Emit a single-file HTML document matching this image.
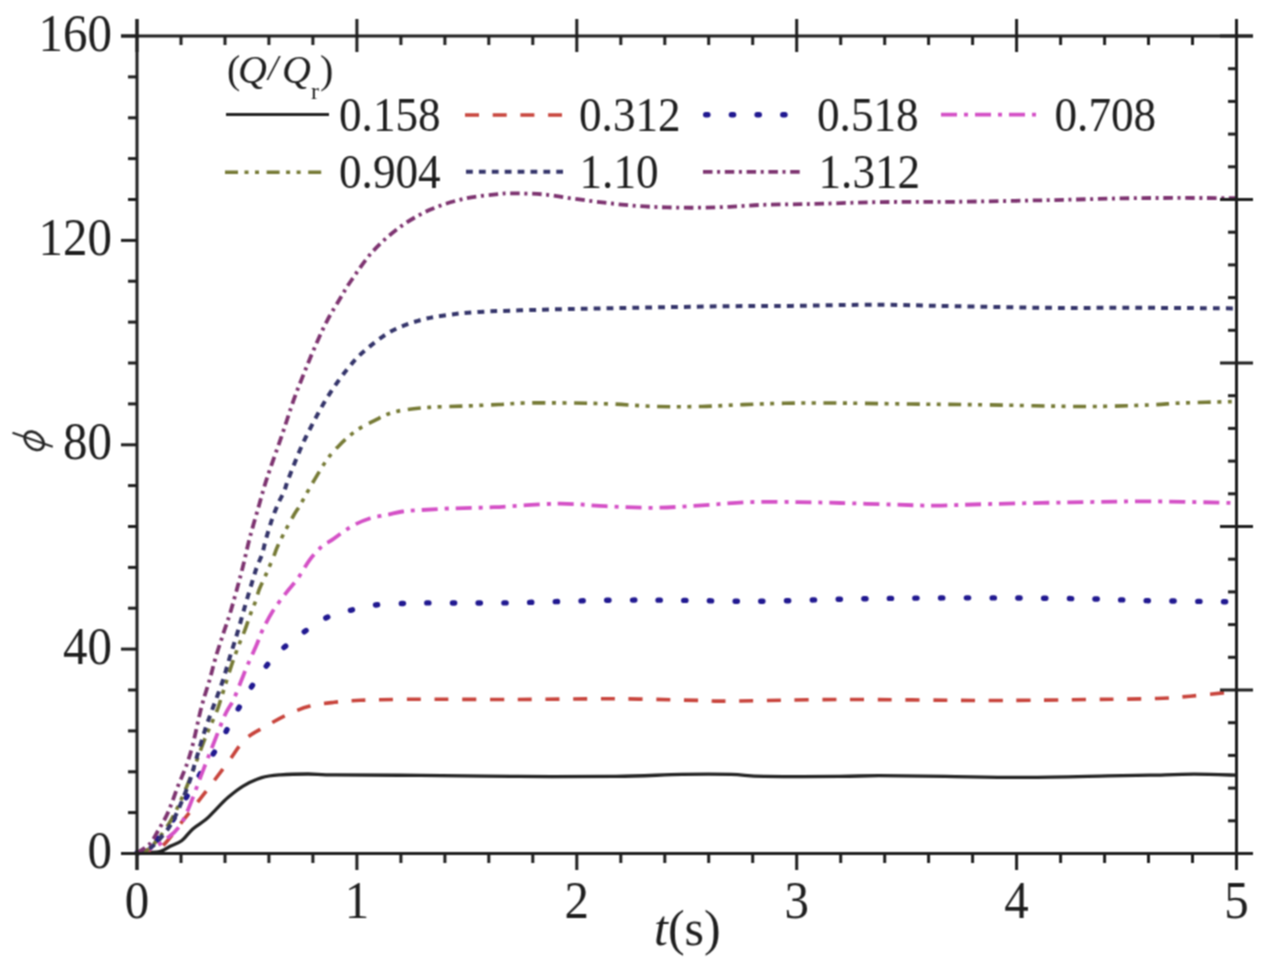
<!DOCTYPE html>
<html><head><meta charset="utf-8"><style>
html,body{margin:0;padding:0;background:#fff;}
svg{display:block;}
text{font-family:"Liberation Serif",serif;fill:#1e1e1e;}
</style></head><body>
<svg width="1283" height="967" viewBox="0 0 1283 967">
<defs><filter id="bl" color-interpolation-filters="sRGB" filterUnits="userSpaceOnUse" x="0" y="0" width="1283" height="967"><feConvolveMatrix order="3" kernelMatrix="1 2 1 2 4 2 1 2 1" divisor="16" edgeMode="duplicate"/></filter></defs>
<g filter="url(#bl)">
<rect width="1283" height="967" fill="#fff"/>
<path d="M137.0,853.0 C140.8,852.8 154.4,852.6 159.8,851.5 C165.2,850.4 166.1,848.2 169.7,846.4 C173.3,844.6 177.8,843.7 181.6,840.8 C185.4,837.9 188.8,832.4 192.8,828.9 C196.8,825.4 202.1,822.7 205.8,819.6 C209.5,816.5 211.4,814.0 215.1,810.3 C218.8,806.6 223.5,801.3 228.2,797.3 C232.9,793.3 237.5,789.4 243.1,786.1 C248.7,782.8 255.5,779.6 261.7,777.7 C267.9,775.8 272.6,775.5 280.3,774.9 C288.1,774.3 298.9,774.0 308.2,774.0 C317.5,774.0 317.5,774.7 336.1,774.9 C354.7,775.1 389.7,775.1 420.0,775.4 C450.3,775.6 485.3,776.2 518.0,776.4 C550.7,776.6 588.7,776.7 616.0,776.4 C643.3,776.1 662.8,774.7 682.0,774.4 C701.2,774.1 717.3,774.1 731.0,774.4 C744.7,774.7 745.8,776.1 764.0,776.4 C782.2,776.7 820.8,776.5 840.0,776.4 C859.2,776.3 861.5,775.7 879.0,775.7 C896.5,775.7 920.5,776.1 945.0,776.4 C969.5,776.7 998.8,777.5 1026.0,777.4 C1053.2,777.3 1087.3,776.3 1108.0,775.9 C1128.7,775.5 1135.7,775.5 1150.0,775.2 C1164.3,774.9 1179.7,774.2 1194.0,774.2 C1208.3,774.2 1229.0,775.0 1236.0,775.2" fill="none" stroke="#222222" stroke-width="3.3" stroke-linecap="butt" stroke-linejoin="round"/>
<path d="M137.0,853.0 C139.2,852.7 145.7,852.2 150.0,851.0 C154.3,849.8 157.5,850.5 163.0,845.5 C168.5,840.5 177.4,827.6 182.9,820.7 C188.4,813.8 191.3,810.3 196.1,804.2 C200.8,798.1 206.1,791.2 211.4,784.2 C216.8,777.2 222.6,769.3 228.2,761.9 C233.8,754.5 238.7,745.5 244.9,739.6 C251.1,733.7 258.3,730.7 265.4,726.5 C272.5,722.3 280.2,717.8 287.7,714.4 C295.1,711.0 302.3,708.1 310.1,706.1 C317.9,704.1 325.9,703.3 334.3,702.3 C342.7,701.3 346.4,700.8 360.3,700.3 C374.2,699.8 391.4,699.3 417.7,699.2 C444.0,699.1 484.9,699.6 518.0,699.5 C551.0,699.4 585.4,698.6 616.0,698.8 C646.6,699.0 682.9,700.1 701.5,700.5 C720.1,700.9 704.1,701.3 727.7,701.1 C751.3,700.9 799.8,699.6 843.0,699.5 C886.2,699.4 945.5,700.5 987.0,700.5 C1028.5,700.5 1063.7,699.8 1092.0,699.5 C1120.3,699.2 1140.7,699.0 1157.0,698.5 C1173.3,698.0 1179.0,697.1 1190.0,696.2 C1201.0,695.3 1215.3,693.7 1223.0,692.9 C1230.7,692.1 1233.8,691.7 1236.0,691.5" fill="none" stroke="#c8443c" stroke-width="3.6" stroke-linecap="butt" stroke-linejoin="round" stroke-dasharray="14 13.7"/>
<path d="M137.0,853.0 C139.2,852.5 146.5,852.3 150.0,850.0 C153.5,847.7 154.2,844.0 158.0,839.0 C161.8,834.0 168.3,826.8 173.0,819.9 C177.7,813.0 181.4,805.8 186.2,797.6 C191.0,789.5 196.6,779.7 202.0,771.0 C207.4,762.3 213.6,753.9 218.5,745.5 C223.4,737.1 227.4,728.6 231.7,720.7 C236.0,712.8 240.2,705.4 244.5,698.2 C248.8,691.0 253.0,684.3 257.8,677.5 C262.6,670.7 267.9,663.7 273.5,657.6 C279.1,651.5 285.6,646.1 291.7,641.1 C297.8,636.1 303.9,632.0 310.2,627.9 C316.4,623.8 322.1,619.4 329.2,616.4 C336.3,613.4 345.1,611.6 352.8,609.7 C360.5,607.8 367.7,606.0 375.6,605.0 C383.6,604.0 392.0,604.0 400.5,603.6 C409.0,603.2 409.1,603.0 426.5,602.9 C443.9,602.8 475.0,603.3 505.0,602.9 C535.0,602.5 577.7,600.7 606.6,600.3 C635.5,599.9 653.5,600.1 678.6,600.3 C703.7,600.5 728.7,601.5 757.2,601.3 C785.7,601.1 821.1,599.5 849.6,599.0 C878.1,598.5 900.1,598.2 928.2,598.0 C956.3,597.8 990.4,597.8 1018.2,598.0 C1046.0,598.2 1074.1,598.6 1095.1,599.0 C1116.1,599.4 1124.0,600.2 1144.2,600.6 C1164.4,601.0 1201.0,601.4 1216.3,601.6 C1231.6,601.8 1232.7,601.8 1236.0,601.8" fill="none" stroke="#201890" stroke-width="5.4" stroke-linecap="round" stroke-linejoin="round" stroke-dasharray="2.2 23.5"/>
<path d="M137.0,853.0 C139.2,852.3 145.3,851.2 150.0,849.0 C154.7,846.8 159.5,844.7 165.0,840.0 C170.5,835.3 176.6,832.2 182.9,820.7 C189.2,809.2 197.8,783.7 202.8,771.1 C207.8,758.5 209.3,754.2 213.0,745.0 C216.7,735.8 221.4,723.0 224.7,715.6 C228.0,708.2 230.2,706.5 233.0,700.7 C235.8,694.9 238.7,686.9 241.2,680.8 C243.7,674.7 245.4,670.1 247.9,664.3 C250.4,658.5 253.6,651.9 256.1,646.1 C258.6,640.3 260.0,635.3 262.8,629.5 C265.6,623.7 268.9,617.4 272.7,611.3 C276.5,605.2 281.8,598.5 285.9,593.1 C290.0,587.7 293.6,584.2 297.6,578.7 C301.6,573.2 305.7,565.3 309.7,559.9 C313.7,554.5 318.2,549.8 321.8,546.5 C325.4,543.2 327.7,542.9 331.3,540.4 C334.9,537.9 339.4,534.4 343.4,531.7 C347.4,529.0 351.0,526.5 355.5,524.3 C360.0,522.0 365.1,519.8 370.3,518.2 C375.6,516.6 381.6,516.0 387.0,514.9 C392.4,513.8 397.2,512.3 402.5,511.5 C407.8,510.7 411.0,510.7 418.7,510.2 C426.4,509.7 436.4,509.0 448.9,508.5 C461.4,508.0 475.8,508.0 493.9,507.2 C512.0,506.4 539.1,503.9 557.8,503.7 C576.4,503.5 589.8,505.5 605.8,506.2 C621.8,506.9 637.7,507.9 653.7,507.8 C669.7,507.7 685.7,506.2 701.7,505.3 C717.7,504.4 733.6,502.6 749.6,502.1 C765.6,501.6 782.4,502.0 797.5,502.1 C812.6,502.2 823.9,502.6 840.0,503.0 C856.1,503.4 878.0,504.2 893.9,504.6 C909.8,505.0 919.5,505.7 935.5,505.6 C951.5,505.5 967.4,504.5 989.8,504.0 C1012.2,503.5 1043.1,502.8 1069.7,502.4 C1096.3,502.0 1121.9,501.3 1149.6,501.4 C1177.3,501.5 1221.6,502.7 1236.0,503.0" fill="none" stroke="#d450c6" stroke-width="3.8" stroke-linecap="butt" stroke-linejoin="round" stroke-dasharray="16 7 4 7"/>
<path d="M137.0,853.0 C139.2,852.2 144.6,853.1 150.0,848.0 C155.4,842.9 163.5,832.7 169.7,822.4 C175.9,812.1 181.2,799.7 187.0,786.0 C192.8,772.3 199.5,752.3 204.4,740.0 C209.3,727.7 213.6,719.4 216.4,712.3 C219.2,705.2 219.2,704.3 221.4,697.4 C223.6,690.5 227.4,678.1 229.7,670.9 C232.0,663.7 233.6,659.3 235.4,654.3 C237.2,649.3 238.9,645.0 240.4,641.1 C241.9,637.2 242.8,635.6 244.5,631.2 C246.2,626.8 248.4,619.9 250.3,614.6 C252.2,609.4 254.6,604.0 256.1,599.7 C257.6,595.4 257.6,593.5 259.4,589.0 C261.2,584.5 264.6,577.7 266.9,572.4 C269.2,567.1 271.6,561.5 273.4,557.2 C275.2,552.9 275.5,551.0 277.5,546.5 C279.5,542.0 282.8,535.5 285.5,530.3 C288.2,525.1 291.1,519.8 293.6,515.5 C296.1,511.2 298.1,508.6 300.3,504.8 C302.5,501.0 304.6,496.9 307.0,492.7 C309.4,488.5 311.1,485.4 314.4,479.9 C317.7,474.4 322.7,465.6 326.8,459.8 C330.9,454.1 334.4,450.2 339.2,445.4 C344.0,440.6 349.9,435.0 355.8,430.9 C361.7,426.8 367.8,423.8 374.4,420.6 C381.0,417.4 386.4,413.8 395.5,411.6 C404.6,409.4 417.4,408.3 429.0,407.4 C440.6,406.5 453.8,406.5 465.4,406.0 C477.0,405.5 488.8,405.0 498.9,404.5 C509.0,404.0 513.9,403.2 525.9,403.0 C537.9,402.8 556.2,402.8 570.6,403.0 C585.0,403.2 597.8,403.4 612.2,404.0 C626.6,404.6 642.0,406.1 656.9,406.5 C671.8,406.9 687.2,406.8 701.6,406.5 C716.0,406.2 729.4,405.1 743.2,404.6 C757.1,404.1 770.3,403.6 784.7,403.3 C799.1,403.0 808.6,402.9 829.5,403.0 C850.4,403.1 883.2,403.7 909.9,404.0 C936.6,404.3 960.5,404.5 989.8,404.9 C1019.1,405.3 1059.1,406.5 1085.7,406.5 C1112.3,406.5 1133.6,405.5 1149.6,404.9 C1165.6,404.3 1167.1,403.6 1181.5,403.0 C1195.9,402.4 1226.9,401.8 1236.0,401.5" fill="none" stroke="#767a35" stroke-width="3.6" stroke-linecap="butt" stroke-linejoin="round" stroke-dasharray="13 6.5 4 6.5 4 7.6"/>
<path d="M137.0,853.0 C139.2,852.2 146.2,850.4 150.0,848.0 C153.8,845.6 156.0,843.4 159.8,838.9 C163.6,834.4 168.3,829.5 173.0,820.7 C177.7,811.9 184.1,796.2 187.9,786.0 C191.8,775.8 193.2,768.8 196.1,759.5 C198.9,750.2 202.2,738.7 205.0,730.0 C207.8,721.3 210.2,715.2 213.1,707.3 C216.0,699.4 219.4,690.8 222.2,682.5 C225.0,674.2 227.1,666.1 229.7,657.6 C232.3,649.1 235.3,640.0 237.9,631.2 C240.5,622.4 242.9,613.2 245.4,604.7 C247.9,596.2 250.9,586.2 252.8,579.9 C254.7,573.5 255.5,570.8 257.0,566.6 C258.5,562.4 260.6,558.8 262.0,554.5 C263.4,550.2 264.2,545.6 265.4,541.1 C266.6,536.6 268.1,531.9 269.4,527.6 C270.7,523.3 271.8,519.8 273.4,515.5 C275.0,511.2 277.0,506.1 278.8,502.1 C280.6,498.1 282.6,495.2 284.2,491.3 C285.8,487.4 285.6,486.0 288.6,478.4 C291.6,470.8 297.4,455.7 302.0,445.4 C306.6,435.1 311.7,425.4 316.5,416.4 C321.3,407.4 325.8,399.5 331.0,391.6 C336.2,383.7 342.0,375.6 347.5,368.9 C353.0,362.2 356.9,357.4 364.0,351.3 C371.1,345.2 380.9,337.1 389.9,332.0 C398.9,326.9 408.6,323.6 417.9,320.8 C427.2,318.0 435.6,316.8 445.8,315.3 C456.0,313.8 463.2,312.8 479.3,311.9 C495.4,311.0 521.5,310.3 542.4,309.7 C563.3,309.1 583.9,308.8 604.7,308.4 C625.5,308.0 646.2,307.6 667.0,307.2 C687.8,306.8 708.6,306.4 729.4,306.2 C750.2,306.0 766.7,306.1 791.8,305.9 C816.9,305.6 853.0,304.6 880.0,304.7 C907.0,304.8 925.7,305.7 953.5,306.2 C981.3,306.7 1015.8,307.5 1047.0,307.8 C1078.2,308.1 1109.1,307.7 1140.6,307.8 C1172.1,307.9 1220.1,308.3 1236.0,308.4" fill="none" stroke="#34346a" stroke-width="4" stroke-linecap="butt" stroke-linejoin="round" stroke-dasharray="6.8 6.1"/>
<path d="M137.0,853.0 C139.1,851.5 146.3,847.6 149.8,843.9 C153.3,840.2 155.1,835.8 158.1,830.6 C161.1,825.4 164.7,819.9 168.0,812.5 C171.3,805.1 175.0,793.7 178.0,786.0 C181.0,778.3 183.7,773.0 186.2,766.1 C188.7,759.2 190.7,752.8 192.8,744.6 C194.9,736.5 197.3,724.5 199.0,717.2 C200.7,709.9 201.4,707.0 203.2,700.7 C205.0,694.4 207.7,686.4 209.8,679.2 C211.9,672.0 213.4,665.1 215.6,657.6 C217.8,650.1 220.7,641.7 223.0,634.5 C225.3,627.3 227.5,621.8 229.7,614.6 C231.9,607.4 234.1,599.4 236.3,591.4 C238.5,583.4 240.6,575.7 242.9,566.6 C245.2,557.5 247.3,547.1 250.0,537.0 C252.7,526.9 256.1,515.5 258.9,505.7 C261.7,495.9 263.2,489.8 266.9,478.4 C270.6,467.0 276.8,450.2 281.3,437.1 C285.8,424.0 289.9,410.6 293.7,399.9 C297.5,389.2 300.7,381.6 304.1,373.0 C307.6,364.4 310.6,356.8 314.4,348.2 C318.2,339.6 322.3,329.9 326.8,321.3 C331.3,312.7 337.2,303.4 341.3,296.5 C345.4,289.6 346.3,287.6 351.6,280.0 C356.9,272.4 364.9,259.9 373.2,251.0 C381.4,242.1 391.3,233.3 401.1,226.3 C410.9,219.3 421.1,213.6 431.8,209.0 C442.5,204.4 454.2,201.0 465.4,198.5 C476.6,196.0 491.3,194.8 498.9,194.0 C506.5,193.2 503.9,193.3 511.2,193.4 C518.5,193.5 532.0,193.4 542.4,194.3 C552.8,195.2 563.1,197.3 573.5,198.7 C583.9,200.1 594.3,201.5 604.7,202.7 C615.1,203.9 625.5,205.1 635.9,205.9 C646.3,206.7 656.6,207.1 667.0,207.4 C677.4,207.7 687.8,207.8 698.2,207.7 C708.6,207.6 719.0,207.3 729.4,206.8 C739.8,206.3 750.2,205.3 760.6,204.9 C771.0,204.5 781.4,204.5 791.8,204.3 C802.2,204.1 808.2,204.1 822.9,203.7 C837.6,203.3 858.2,202.4 880.0,202.1 C901.8,201.8 925.7,202.1 953.5,201.8 C981.3,201.5 1015.8,200.8 1047.0,200.2 C1078.2,199.6 1109.1,198.4 1140.6,198.1 C1172.1,197.8 1220.1,198.1 1236.0,198.1" fill="none" stroke="#7d3370" stroke-width="3.8" stroke-linecap="butt" stroke-linejoin="round" stroke-dasharray="9.5 4.6 3 4.7"/>
<line x1="121.0" y1="36.0" x2="1253.0" y2="36.0" stroke="#1e1e1e" stroke-width="3"/>
<line x1="121.0" y1="853.5" x2="1253.0" y2="853.5" stroke="#1e1e1e" stroke-width="3"/>
<line x1="137.0" y1="19.0" x2="137.0" y2="870.0" stroke="#1e1e1e" stroke-width="3"/>
<line x1="1236.5" y1="19.0" x2="1236.5" y2="870.0" stroke="#1e1e1e" stroke-width="3"/>
<line x1="121.0" y1="36.0" x2="137.0" y2="36.0" stroke="#1e1e1e" stroke-width="3"/>
<line x1="128.0" y1="76.9" x2="137.0" y2="76.9" stroke="#1e1e1e" stroke-width="3"/>
<line x1="128.0" y1="117.8" x2="137.0" y2="117.8" stroke="#1e1e1e" stroke-width="3"/>
<line x1="128.0" y1="158.6" x2="137.0" y2="158.6" stroke="#1e1e1e" stroke-width="3"/>
<line x1="128.0" y1="199.5" x2="137.0" y2="199.5" stroke="#1e1e1e" stroke-width="3"/>
<line x1="121.0" y1="240.4" x2="137.0" y2="240.4" stroke="#1e1e1e" stroke-width="3"/>
<line x1="128.0" y1="281.2" x2="137.0" y2="281.2" stroke="#1e1e1e" stroke-width="3"/>
<line x1="128.0" y1="322.1" x2="137.0" y2="322.1" stroke="#1e1e1e" stroke-width="3"/>
<line x1="128.0" y1="363.0" x2="137.0" y2="363.0" stroke="#1e1e1e" stroke-width="3"/>
<line x1="128.0" y1="403.9" x2="137.0" y2="403.9" stroke="#1e1e1e" stroke-width="3"/>
<line x1="121.0" y1="444.8" x2="137.0" y2="444.8" stroke="#1e1e1e" stroke-width="3"/>
<line x1="128.0" y1="485.6" x2="137.0" y2="485.6" stroke="#1e1e1e" stroke-width="3"/>
<line x1="128.0" y1="526.5" x2="137.0" y2="526.5" stroke="#1e1e1e" stroke-width="3"/>
<line x1="128.0" y1="567.4" x2="137.0" y2="567.4" stroke="#1e1e1e" stroke-width="3"/>
<line x1="128.0" y1="608.2" x2="137.0" y2="608.2" stroke="#1e1e1e" stroke-width="3"/>
<line x1="121.0" y1="649.1" x2="137.0" y2="649.1" stroke="#1e1e1e" stroke-width="3"/>
<line x1="128.0" y1="690.0" x2="137.0" y2="690.0" stroke="#1e1e1e" stroke-width="3"/>
<line x1="128.0" y1="730.9" x2="137.0" y2="730.9" stroke="#1e1e1e" stroke-width="3"/>
<line x1="128.0" y1="771.8" x2="137.0" y2="771.8" stroke="#1e1e1e" stroke-width="3"/>
<line x1="128.0" y1="812.6" x2="137.0" y2="812.6" stroke="#1e1e1e" stroke-width="3"/>
<line x1="121.0" y1="853.5" x2="137.0" y2="853.5" stroke="#1e1e1e" stroke-width="3"/>
<line x1="1220.0" y1="36.0" x2="1253.0" y2="36.0" stroke="#1e1e1e" stroke-width="3"/>
<line x1="1228.0" y1="68.7" x2="1236.5" y2="68.7" stroke="#1e1e1e" stroke-width="3"/>
<line x1="1228.0" y1="101.4" x2="1236.5" y2="101.4" stroke="#1e1e1e" stroke-width="3"/>
<line x1="1228.0" y1="134.1" x2="1236.5" y2="134.1" stroke="#1e1e1e" stroke-width="3"/>
<line x1="1228.0" y1="166.8" x2="1236.5" y2="166.8" stroke="#1e1e1e" stroke-width="3"/>
<line x1="1220.0" y1="199.5" x2="1253.0" y2="199.5" stroke="#1e1e1e" stroke-width="3"/>
<line x1="1228.0" y1="232.2" x2="1236.5" y2="232.2" stroke="#1e1e1e" stroke-width="3"/>
<line x1="1228.0" y1="264.9" x2="1236.5" y2="264.9" stroke="#1e1e1e" stroke-width="3"/>
<line x1="1228.0" y1="297.6" x2="1236.5" y2="297.6" stroke="#1e1e1e" stroke-width="3"/>
<line x1="1228.0" y1="330.3" x2="1236.5" y2="330.3" stroke="#1e1e1e" stroke-width="3"/>
<line x1="1220.0" y1="363.0" x2="1253.0" y2="363.0" stroke="#1e1e1e" stroke-width="3"/>
<line x1="1228.0" y1="395.7" x2="1236.5" y2="395.7" stroke="#1e1e1e" stroke-width="3"/>
<line x1="1228.0" y1="428.4" x2="1236.5" y2="428.4" stroke="#1e1e1e" stroke-width="3"/>
<line x1="1228.0" y1="461.1" x2="1236.5" y2="461.1" stroke="#1e1e1e" stroke-width="3"/>
<line x1="1228.0" y1="493.8" x2="1236.5" y2="493.8" stroke="#1e1e1e" stroke-width="3"/>
<line x1="1220.0" y1="526.5" x2="1253.0" y2="526.5" stroke="#1e1e1e" stroke-width="3"/>
<line x1="1228.0" y1="559.2" x2="1236.5" y2="559.2" stroke="#1e1e1e" stroke-width="3"/>
<line x1="1228.0" y1="591.9" x2="1236.5" y2="591.9" stroke="#1e1e1e" stroke-width="3"/>
<line x1="1228.0" y1="624.6" x2="1236.5" y2="624.6" stroke="#1e1e1e" stroke-width="3"/>
<line x1="1228.0" y1="657.3" x2="1236.5" y2="657.3" stroke="#1e1e1e" stroke-width="3"/>
<line x1="1220.0" y1="690.0" x2="1253.0" y2="690.0" stroke="#1e1e1e" stroke-width="3"/>
<line x1="1228.0" y1="722.7" x2="1236.5" y2="722.7" stroke="#1e1e1e" stroke-width="3"/>
<line x1="1228.0" y1="755.4" x2="1236.5" y2="755.4" stroke="#1e1e1e" stroke-width="3"/>
<line x1="1228.0" y1="788.1" x2="1236.5" y2="788.1" stroke="#1e1e1e" stroke-width="3"/>
<line x1="1228.0" y1="820.8" x2="1236.5" y2="820.8" stroke="#1e1e1e" stroke-width="3"/>
<line x1="1220.0" y1="853.5" x2="1253.0" y2="853.5" stroke="#1e1e1e" stroke-width="3"/>
<line x1="137.0" y1="19.0" x2="137.0" y2="52.0" stroke="#1e1e1e" stroke-width="3"/>
<line x1="137.0" y1="853.5" x2="137.0" y2="870.0" stroke="#1e1e1e" stroke-width="3"/>
<line x1="181.0" y1="36.0" x2="181.0" y2="45.0" stroke="#1e1e1e" stroke-width="3"/>
<line x1="181.0" y1="853.5" x2="181.0" y2="863.0" stroke="#1e1e1e" stroke-width="3"/>
<line x1="225.0" y1="36.0" x2="225.0" y2="45.0" stroke="#1e1e1e" stroke-width="3"/>
<line x1="225.0" y1="853.5" x2="225.0" y2="863.0" stroke="#1e1e1e" stroke-width="3"/>
<line x1="268.9" y1="36.0" x2="268.9" y2="45.0" stroke="#1e1e1e" stroke-width="3"/>
<line x1="268.9" y1="853.5" x2="268.9" y2="863.0" stroke="#1e1e1e" stroke-width="3"/>
<line x1="312.9" y1="36.0" x2="312.9" y2="45.0" stroke="#1e1e1e" stroke-width="3"/>
<line x1="312.9" y1="853.5" x2="312.9" y2="863.0" stroke="#1e1e1e" stroke-width="3"/>
<line x1="356.9" y1="19.0" x2="356.9" y2="52.0" stroke="#1e1e1e" stroke-width="3"/>
<line x1="356.9" y1="853.5" x2="356.9" y2="870.0" stroke="#1e1e1e" stroke-width="3"/>
<line x1="400.9" y1="36.0" x2="400.9" y2="45.0" stroke="#1e1e1e" stroke-width="3"/>
<line x1="400.9" y1="853.5" x2="400.9" y2="863.0" stroke="#1e1e1e" stroke-width="3"/>
<line x1="444.9" y1="36.0" x2="444.9" y2="45.0" stroke="#1e1e1e" stroke-width="3"/>
<line x1="444.9" y1="853.5" x2="444.9" y2="863.0" stroke="#1e1e1e" stroke-width="3"/>
<line x1="488.8" y1="36.0" x2="488.8" y2="45.0" stroke="#1e1e1e" stroke-width="3"/>
<line x1="488.8" y1="853.5" x2="488.8" y2="863.0" stroke="#1e1e1e" stroke-width="3"/>
<line x1="532.8" y1="36.0" x2="532.8" y2="45.0" stroke="#1e1e1e" stroke-width="3"/>
<line x1="532.8" y1="853.5" x2="532.8" y2="863.0" stroke="#1e1e1e" stroke-width="3"/>
<line x1="576.8" y1="19.0" x2="576.8" y2="52.0" stroke="#1e1e1e" stroke-width="3"/>
<line x1="576.8" y1="853.5" x2="576.8" y2="870.0" stroke="#1e1e1e" stroke-width="3"/>
<line x1="620.8" y1="36.0" x2="620.8" y2="45.0" stroke="#1e1e1e" stroke-width="3"/>
<line x1="620.8" y1="853.5" x2="620.8" y2="863.0" stroke="#1e1e1e" stroke-width="3"/>
<line x1="664.8" y1="36.0" x2="664.8" y2="45.0" stroke="#1e1e1e" stroke-width="3"/>
<line x1="664.8" y1="853.5" x2="664.8" y2="863.0" stroke="#1e1e1e" stroke-width="3"/>
<line x1="708.7" y1="36.0" x2="708.7" y2="45.0" stroke="#1e1e1e" stroke-width="3"/>
<line x1="708.7" y1="853.5" x2="708.7" y2="863.0" stroke="#1e1e1e" stroke-width="3"/>
<line x1="752.7" y1="36.0" x2="752.7" y2="45.0" stroke="#1e1e1e" stroke-width="3"/>
<line x1="752.7" y1="853.5" x2="752.7" y2="863.0" stroke="#1e1e1e" stroke-width="3"/>
<line x1="796.7" y1="19.0" x2="796.7" y2="52.0" stroke="#1e1e1e" stroke-width="3"/>
<line x1="796.7" y1="853.5" x2="796.7" y2="870.0" stroke="#1e1e1e" stroke-width="3"/>
<line x1="840.7" y1="36.0" x2="840.7" y2="45.0" stroke="#1e1e1e" stroke-width="3"/>
<line x1="840.7" y1="853.5" x2="840.7" y2="863.0" stroke="#1e1e1e" stroke-width="3"/>
<line x1="884.7" y1="36.0" x2="884.7" y2="45.0" stroke="#1e1e1e" stroke-width="3"/>
<line x1="884.7" y1="853.5" x2="884.7" y2="863.0" stroke="#1e1e1e" stroke-width="3"/>
<line x1="928.6" y1="36.0" x2="928.6" y2="45.0" stroke="#1e1e1e" stroke-width="3"/>
<line x1="928.6" y1="853.5" x2="928.6" y2="863.0" stroke="#1e1e1e" stroke-width="3"/>
<line x1="972.6" y1="36.0" x2="972.6" y2="45.0" stroke="#1e1e1e" stroke-width="3"/>
<line x1="972.6" y1="853.5" x2="972.6" y2="863.0" stroke="#1e1e1e" stroke-width="3"/>
<line x1="1016.6" y1="19.0" x2="1016.6" y2="52.0" stroke="#1e1e1e" stroke-width="3"/>
<line x1="1016.6" y1="853.5" x2="1016.6" y2="870.0" stroke="#1e1e1e" stroke-width="3"/>
<line x1="1060.6" y1="36.0" x2="1060.6" y2="45.0" stroke="#1e1e1e" stroke-width="3"/>
<line x1="1060.6" y1="853.5" x2="1060.6" y2="863.0" stroke="#1e1e1e" stroke-width="3"/>
<line x1="1104.6" y1="36.0" x2="1104.6" y2="45.0" stroke="#1e1e1e" stroke-width="3"/>
<line x1="1104.6" y1="853.5" x2="1104.6" y2="863.0" stroke="#1e1e1e" stroke-width="3"/>
<line x1="1148.5" y1="36.0" x2="1148.5" y2="45.0" stroke="#1e1e1e" stroke-width="3"/>
<line x1="1148.5" y1="853.5" x2="1148.5" y2="863.0" stroke="#1e1e1e" stroke-width="3"/>
<line x1="1192.5" y1="36.0" x2="1192.5" y2="45.0" stroke="#1e1e1e" stroke-width="3"/>
<line x1="1192.5" y1="853.5" x2="1192.5" y2="863.0" stroke="#1e1e1e" stroke-width="3"/>
<line x1="1236.5" y1="19.0" x2="1236.5" y2="52.0" stroke="#1e1e1e" stroke-width="3"/>
<line x1="1236.5" y1="853.5" x2="1236.5" y2="870.0" stroke="#1e1e1e" stroke-width="3"/>
<g font-size="51"><text transform="translate(112,868.0) scale(0.96,1.03)" text-anchor="end">0</text><text transform="translate(112,663.6) scale(0.96,1.03)" text-anchor="end">40</text><text transform="translate(112,459.2) scale(0.96,1.03)" text-anchor="end">80</text><text transform="translate(112,254.9) scale(0.96,1.03)" text-anchor="end">120</text><text transform="translate(112,50.5) scale(0.96,1.03)" text-anchor="end">160</text><text transform="translate(137.0,918) scale(0.96,1.03)" text-anchor="middle">0</text><text transform="translate(356.9,918) scale(0.96,1.03)" text-anchor="middle">1</text><text transform="translate(576.8,918) scale(0.96,1.03)" text-anchor="middle">2</text><text transform="translate(796.7,918) scale(0.96,1.03)" text-anchor="middle">3</text><text transform="translate(1016.6,918) scale(0.96,1.03)" text-anchor="middle">4</text><text transform="translate(1236.5,918) scale(0.96,1.03)" text-anchor="middle">5</text></g>
<line x1="226" y1="114.5" x2="329" y2="114.5" stroke="#222222" stroke-width="3" stroke-linecap="butt"/><line x1="465" y1="115" x2="562" y2="115" stroke="#c8443c" stroke-width="3.6" stroke-linecap="butt" stroke-dasharray="14 13.7"/><line x1="705.7" y1="114.7" x2="790" y2="114.7" stroke="#201890" stroke-width="5.4" stroke-linecap="round" stroke-dasharray="2.2 23.5"/><line x1="941" y1="114.7" x2="1040" y2="114.7" stroke="#d450c6" stroke-width="3.8" stroke-linecap="butt" stroke-dasharray="16 7 4 7"/><line x1="225" y1="172.2" x2="322" y2="172.2" stroke="#767a35" stroke-width="3.6" stroke-linecap="butt" stroke-dasharray="13 6.5 4 6.5 4 7.6"/><line x1="466" y1="171.8" x2="563" y2="171.8" stroke="#34346a" stroke-width="4" stroke-linecap="butt" stroke-dasharray="6.8 6.1"/><line x1="703" y1="171.8" x2="803" y2="171.8" stroke="#7d3370" stroke-width="3.8" stroke-linecap="butt" stroke-dasharray="9.5 4.6 3 4.7"/><text transform="translate(339,131.2) scale(1,1.07)" font-size="45.2">0.158</text><text transform="translate(579,131.2) scale(1,1.07)" font-size="45.2">0.312</text><text transform="translate(817,131.2) scale(1,1.07)" font-size="45.2">0.518</text><text transform="translate(1054.5,131.2) scale(1,1.07)" font-size="45.2">0.708</text><text transform="translate(339,187.6) scale(1,1.07)" font-size="45.2">0.904</text><text transform="translate(579.5,187.6) scale(1,1.07)" font-size="45.2">1.10</text><text transform="translate(818.5,187.6) scale(1,1.07)" font-size="45.2">1.312</text>
<text y="83" font-size="40"><tspan x="227">(</tspan><tspan x="238" font-style="italic">Q</tspan><tspan x="268" font-size="36" dy="-3" font-style="italic">/</tspan><tspan x="282" dy="3" font-style="italic">Q</tspan><tspan x="311" font-size="24" dy="16">r</tspan><tspan x="320" dy="-16">)</tspan></text>
<text x="654" y="945" font-size="50"><tspan font-style="italic">t</tspan>(s)</text>
<g fill="none" stroke="#262626"><ellipse cx="34.2" cy="440.8" rx="10.8" ry="7.6" transform="rotate(42 34.2 440.8)" stroke-width="2.7"/><line x1="12.5" y1="432.8" x2="52.8" y2="446.8" stroke-width="2"/></g>
</g>
</svg>
</body></html>
